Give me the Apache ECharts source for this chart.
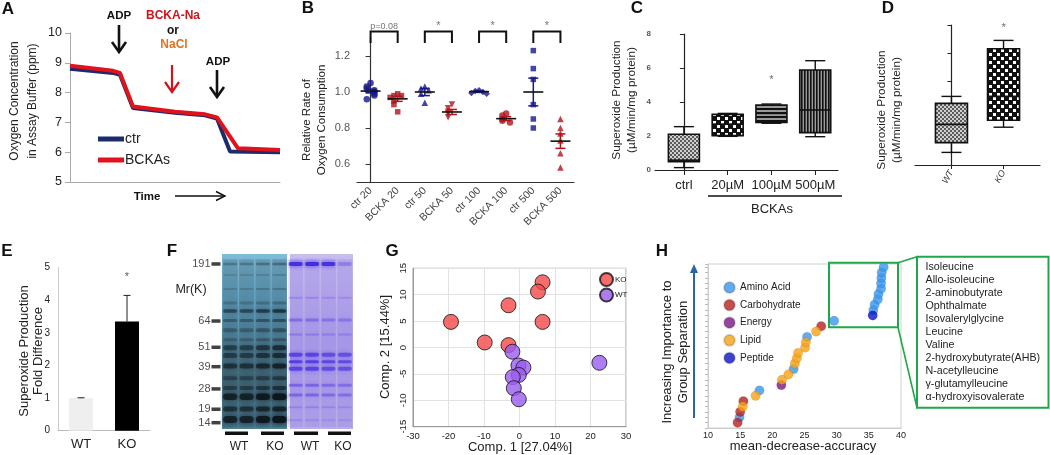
<!DOCTYPE html>
<html><head><meta charset="utf-8">
<script src="https://cdn.jsdelivr.net/npm/echarts@6/dist/echarts.min.js"></script>
<style>html,body{margin:0;padding:0;background:#fff}#c{width:1050px;height:455px}</style>
</head><body><div id="c"></div>
<script>
const FONT = 'Liberation Sans, Arial, Helvetica, sans-serif';

// ---------- Panel A: oxygen traces ----------
const aCtrTime  = [0, 20.5, 23.8, 30, 50, 64.3, 70, 76.2, 100];
const aCtrO2    = [8.8, 8.66, 8.6, 7.48, 7.32, 7.24, 7.13, 6.02, 6.0];
const aBckaTime = [0, 20.5, 23.8, 30, 50, 64.3, 70, 80, 100];
const aBckaO2   = [8.9, 8.73, 8.66, 7.53, 7.36, 7.27, 7.17, 6.13, 6.07];

// ---------- Panel B: relative O2 consumption ----------
const bCats = ['ctr 20','BCKA 20','ctr 50','BCKA 50','ctr 100','BCKA 100','ctr 500','BCKA 500'];
const bPoints = [
  [1.05, 1.03, 1.02, 1.01, 1.00, 0.99, 0.98, 0.96],
  [0.99, 0.98, 0.98, 0.97, 0.95, 0.93, 0.89],
  [1.03, 1.02, 1.01, 0.99, 0.94],
  [0.93, 0.91, 0.89, 0.88, 0.86],
  [1.01, 1.005, 1.0, 0.995, 0.99],
  [0.88, 0.87, 0.85, 0.84, 0.83],
  [1.23, 1.13, 1.07, 0.93, 0.85, 0.80],
  [0.85, 0.80, 0.77, 0.73, 0.66, 0.58]
];
const bMean = [1.005, 0.962, 1.0, 0.889, 1.002, 0.852, 1.0, 0.727];
const bSem  = [0.01, 0.014, 0.02, 0.014, 0.004, 0.011, 0.077, 0.04];
const bSymbols = ['circle','rect','triangle','triangle','diamond','circle','rect','triangle'];
const bSymbolRotate = [0,0,0,180,0,0,0,0];
const bYTicks = [0.6, 0.8, 1.0, 1.2];
const bBrackets = [[0,1,'p=0.08'],[2,3,'*'],[4,5,'*'],[6,7,'*']];

// ---------- Panel C: superoxide, BCKA doses ----------
const cCats = ['ctrl','20µM','100µM','500µM'];
const cBox = [ // min, q1, median, q3, max
  [0.14, 0.49, 0.58, 2.1, 2.55],
  [1.98, 2.02, 2.7, 3.27, 3.33],
  [2.75, 2.8, 3.33, 3.82, 3.88],
  [1.96, 2.2, 3.53, 5.88, 6.43]
];
const cStars = [[2, 5.3]];

// ---------- Panel D: superoxide WT vs KO ----------
const dCats = ['WT','KO'];
const dBox = [
  [0.45, 0.8, 1.45, 2.2, 2.45],
  [1.35, 1.6, 2.45, 4.15, 4.45]
];
const dStars = [[1, 4.9]];

// ---------- Panel E: fold difference ----------
const eCats = ['WT','KO'];
const eVals = [1.0, 3.35];
const eErr  = [0.01, 0.8];
const eStars = [[1, 4.72]];

// ---------- Panel F: gel ----------
const gelMarkers   = ['191','64','51','39','28','19','14'];
const gelMarkerPos = [5.7, 38.3, 53.3, 64.4, 77.1, 88.7, 96.4];
const gelLaneLabels = ['WT','KO','WT','KO'];
const blueBands = [ // position, intensity, thickness(px)
  [5.7,0.3,2.5],[12,0.15,2],[20,0.2,2],[28,0.25,3],[32.6,0.6,3.5],[38,0.4,3],[43.5,0.35,4],
  [49,0.3,3],[53.5,0.6,5],[58,0.6,5],[64,0.7,5],[71,0.45,4],[76.6,0.55,4],[81.5,0.9,6.5],
  [88.5,0.7,5],[94.5,0.9,7]
];
const blueLaneGain = [0.85, 0.85, 1.0, 1.1];
const purpleBands = [
  [5.7,0.9,4],[25,0.2,2],[37.7,0.35,3],[46,0.25,2],[57.5,0.65,4],[61.5,0.7,3],[65.5,0.65,4],
  [75,0.4,3],[80.6,0.4,3],[87.5,0.2,2],[95,0.15,2]
];
const purpleLaneGain = [1.0, 1.0, 0.9, 0.85];
const purpleTopGain  = [0.95, 1.0, 0.95, 0.3];

// ---------- Panel G: PCA ----------
const koX = [6.5, 5.2, -3.1, -19.3, 6.5, -9.8, -3.1];
const koY = [12.35, 10.6, 8.0, 4.85, 4.85, 0.95, 0.45];
const wtX = [-2.0, -0.3, 1.1, -0.2, -1.9, -1.6, -0.2, 22.5];
const wtY = [-0.8, -3.4, -3.8, -5.2, -5.6, -7.7, -9.8, -2.9];

// ---------- Panel H: random forest importance ----------
const hX = [14.6,14.9,15.0,15.4,15.5,17.4,18.0,21.4,21.5,22.5,23.3,23.5,23.8,24.0,25.1,25.2,25.4,26.8,27.6,29.6,
            35.6,35.7,35.9,36.4,36.5,36.9,36.9,36.95,37.0,37.3];
const hClass = ['Carbohydrate','Amino Acid','Carbohydrate','Lipid','Carbohydrate','Lipid','Amino Acid','Energy','Lipid','Lipid',
  'Amino Acid','Lipid','Lipid','Lipid','Lipid','Lipid','Amino Acid','Lipid','Carbohydrate','Amino Acid',
  'Peptide','Amino Acid','Amino Acid','Amino Acid','Amino Acid','Amino Acid','Amino Acid','Amino Acid','Amino Acid','Amino Acid'];
const hClasses = ['Amino Acid','Carbohydrate','Energy','Lipid','Peptide'];
const hColors  = ['#3a96ee','#b52121','#7b1685','#f6a215','#0b14c8'];
const hCallout = ['Isoleucine','Allo-isoleucine','2-aminobutyrate','Ophthalmate','Isovalerylglycine','Leucine','Valine',
  '2-hydroxybutyrate(AHB)','N-acetylleucine','γ-glutamylleucine','α-hydroxyisovalerate'];

// ---------- patterns ----------
function makePattern(type){
  const c = document.createElement('canvas'); const g = c.getContext('2d');
  if (type==='fine'){ c.width=c.height=4; g.fillStyle='#d0d0d0'; g.fillRect(0,0,4,4); g.fillStyle='#5a5a5a'; g.fillRect(0,0,2,2); g.fillRect(2,2,2,2); }
  else if (type==='check'){ c.width=c.height=8; g.fillStyle='#111'; g.fillRect(0,0,8,8); g.fillStyle='#fff'; g.fillRect(1,1,3,3); g.fillRect(5,5,3,3); }
  else if (type==='hline'){ c.width=4; c.height=4; g.fillStyle='#9a9a9a'; g.fillRect(0,0,4,4); g.fillStyle='#111'; g.fillRect(0,0,4,2); }
  else if (type==='vline'){ c.width=3; c.height=3; g.fillStyle='#9a9a9a'; g.fillRect(0,0,3,3); g.fillStyle='#111'; g.fillRect(0,0,1.6,3); }
  return {image:c, repeat:'repeat'};
}
const patterns = [makePattern('fine'), makePattern('check'), makePattern('hline'), makePattern('vline')];
const cPattern = [0,1,2,3];
const dPattern = [0,1];

const CTR = '#16168f', BCKA = '#b0141a';

function boxRenderer(boxW, capW){
  return function(params, api){
    const x = api.value(0);
    const pLo = api.coord([x, api.value(1)]), pQ1 = api.coord([x, api.value(2)]),
          pMed = api.coord([x, api.value(3)]), pQ3 = api.coord([x, api.value(4)]), pHi = api.coord([x, api.value(5)]);
    const pat = patterns[api.value(6)];
    const cx = pMed[0], hw = boxW/2, st = {stroke:'#111', lineWidth:1.4};
    return {type:'group', children:[
      {type:'line', shape:{x1:cx,y1:pHi[1],x2:cx,y2:pQ3[1]}, style:st},
      {type:'line', shape:{x1:cx,y1:pLo[1],x2:cx,y2:pQ1[1]}, style:st},
      {type:'line', shape:{x1:cx-capW,y1:pHi[1],x2:cx+capW,y2:pHi[1]}, style:st},
      {type:'line', shape:{x1:cx-capW,y1:pLo[1],x2:cx+capW,y2:pLo[1]}, style:st},
      {type:'rect', shape:{x:cx-hw,y:pQ3[1],width:boxW,height:pQ1[1]-pQ3[1]}, style:{fill:pat, stroke:'#111', lineWidth:1.6}},
      {type:'line', shape:{x1:cx-hw,y1:pMed[1],x2:cx+hw,y2:pMed[1]}, style:{stroke:'#111', lineWidth:1.6}}
    ]};
  };
}

// beeswarm offsets (deterministic) for panel B
function swarm(vals){
  const out = [];
  vals.forEach((v,i)=>{
    let k=0; for(let j=0;j<i;j++){ if(Math.abs(vals[j]-v)<0.025) k++; }
    out.push(k===0?0:(k%2?-1:1)*Math.ceil(k/2)*0.14);
  });
  return out;
}

const series = [];
// A
series.push({name:'ctr', type:'line', xAxisIndex:0, yAxisIndex:0, showSymbol:false, symbol:'none',
  data:aCtrTime.map((t,i)=>[t,aCtrO2[i]]), lineStyle:{color:'#1c2a6e', width:4}, itemStyle:{color:'#1c2a6e'}, z:3});
series.push({name:'BCKAs', type:'line', xAxisIndex:0, yAxisIndex:0, showSymbol:false, symbol:'none',
  data:aBckaTime.map((t,i)=>[t,aBckaO2[i]]), lineStyle:{color:'#e0121c', width:4}, itemStyle:{color:'#e0121c'}, z:4});
// B scatter
bPoints.forEach((pts,i)=>{
  const off = swarm(pts);
  series.push({name:bCats[i], type:'scatter', xAxisIndex:2, yAxisIndex:1, symbol:bSymbols[i], symbolRotate:bSymbolRotate[i],
    symbolSize: bSymbols[i]==='rect'?5.5:6.5, itemStyle:{color: i%2===0?CTR:BCKA},
    data: pts.map((v,k)=>[i+off[k], v]), z:3});
});
series.push({type:'custom', xAxisIndex:2, yAxisIndex:1, z:6, data:bMean.map((m,i)=>[i,m,bSem[i]]),
  renderItem:(p,api)=>{
    const i=api.value(0), m=api.value(1), s=api.value(2);
    const c=api.coord([i,m]), t=api.coord([i,m+s]), b=api.coord([i,m-s]);
    const col = i%2===0?CTR:BCKA, st={stroke:col,lineWidth:1.5};
    return {type:'group', children:[
      {type:'line', shape:{x1:c[0],y1:t[1],x2:c[0],y2:b[1]}, style:st},
      {type:'line', shape:{x1:c[0]-5,y1:t[1],x2:c[0]+5,y2:t[1]}, style:st},
      {type:'line', shape:{x1:c[0]-5,y1:b[1],x2:c[0]+5,y2:b[1]}, style:st},
      {type:'line', shape:{x1:c[0]-10,y1:c[1],x2:c[0]+10,y2:c[1]}, style:{stroke:'#111',lineWidth:1.6}}
    ]};
  }});
series.push({type:'custom', xAxisIndex:2, yAxisIndex:1, clip:false, z:6, data:bBrackets.map(b=>[b[0],b[1],1.336,1.272]),
  renderItem:(p,api)=>{
    const a=api.coord([api.value(0),api.value(2)]), b=api.coord([api.value(1),api.value(3)]);
    const lab = bBrackets[p.dataIndex][2];
    return {type:'group', children:[
      {type:'polyline', shape:{points:[[a[0],b[1]],[a[0],a[1]],[b[0],a[1]],[b[0],b[1]]]}, style:{stroke:'#111',lineWidth:2,fill:null}},
      {type:'text', x:(a[0]+b[0])/2, y:a[1]-(lab==='*'?6:5), style:{text:lab, fill:'#777', fontSize:lab==='*'?11:9, fontFamily:FONT, align:'center', verticalAlign:'middle'}}
    ]};
  }});
// C
series.push({type:'custom', xAxisIndex:3, yAxisIndex:2, data:cBox.map((b,i)=>[i].concat(b).concat([cPattern[i]])), renderItem:boxRenderer(31,10)});
series.push({type:'scatter', xAxisIndex:3, yAxisIndex:2, symbolSize:0, data:cStars,
  label:{show:true, formatter:'*', position:'inside', color:'#444', fontSize:11, fontFamily:FONT}});
// D
series.push({type:'custom', xAxisIndex:4, yAxisIndex:3, data:dBox.map((b,i)=>[i].concat(b).concat([dPattern[i]])), renderItem:boxRenderer(32,10)});
series.push({type:'scatter', xAxisIndex:4, yAxisIndex:3, symbolSize:0, data:dStars,
  label:{show:true, formatter:'*', position:'inside', color:'#444', fontSize:11, fontFamily:FONT}});
// E
series.push({type:'bar', xAxisIndex:5, yAxisIndex:4, barWidth:24,
  data:eVals.map((v,i)=>({value:v, itemStyle:{color: i===0?'#efefef':'#000'}}))});
series.push({type:'custom', xAxisIndex:5, yAxisIndex:4, z:5, data:eVals.map((v,i)=>[i,v,eErr[i]]),
  renderItem:(p,api)=>{
    const i=api.value(0), v=api.value(1), e=api.value(2);
    const b=api.coord([i,v]), t=api.coord([i,v+e]); const st={stroke:'#222',lineWidth:1};
    return {type:'group', children:[
      {type:'line', shape:{x1:b[0],y1:b[1],x2:b[0],y2:t[1]}, style:st},
      {type:'line', shape:{x1:b[0]-3.5,y1:t[1],x2:b[0]+3.5,y2:t[1]}, style:st}
    ]};
  }});
series.push({type:'scatter', xAxisIndex:5, yAxisIndex:4, symbolSize:0, data:eStars,
  label:{show:true, formatter:'*', position:'inside', color:'#333', fontSize:11, fontFamily:FONT}});
// F gel
const gelPanels = [[-0.5, 3.47, 0], [3.65, 7.5, 1]];
series.push({type:'custom', xAxisIndex:6, yAxisIndex:5, clip:false, data:gelPanels,
  renderItem:(p,api)=>{
    const a=api.coord([api.value(0),0]), b=api.coord([api.value(1),100]);
    const blue = api.value(2)===0;
    return {type:'rect', shape:{x:a[0],y:a[1],width:b[0]-a[0],height:b[1]-a[1]},
      style:{fill: new echarts.graphic.LinearGradient(0,0,0,1, blue?
        [{offset:0,color:'#7dbcd8'},{offset:0.35,color:'#5d9fbf'},{offset:0.7,color:'#466f80'},{offset:1,color:'#4c7f95'}]:
        [{offset:0,color:'#c9bdee'},{offset:0.5,color:'#b5a6ea'},{offset:1,color:'#bcaeea'}])}};
  }});
// lane smears
const gelLanes = [0,1,2,3,4,5,6,7];
series.push({type:'custom', xAxisIndex:6, yAxisIndex:5, clip:false, data:gelLanes.map(l=>[l]),
  renderItem:(p,api)=>{
    const l=api.value(0), a=api.coord([l,3]), b=api.coord([l,99]); const blue=l<4;
    return {type:'rect', shape:{x:a[0]-7.5,y:a[1],width:15,height:b[1]-a[1]},
      style:{fill: blue?'rgba(20,40,50,0.18)':'rgba(70,50,210,0.12)', shadowBlur:4, shadowColor: blue?'rgba(20,40,50,0.2)':'rgba(70,50,210,0.12)'}};
  }});
const gelData = [];
for (let l=0;l<4;l++){
  blueBands.forEach(b=>gelData.push([l, b[0], Math.min(1,b[1]*blueLaneGain[l]), b[2], 0]));
  purpleBands.forEach((b,k)=>gelData.push([4+l, b[0], Math.min(1,b[1]*(k===0?purpleTopGain[l]:purpleLaneGain[l])), b[2], 1]));
}
series.push({type:'custom', xAxisIndex:6, yAxisIndex:5, clip:false, data:gelData,
  renderItem:(p,api)=>{
    const l=api.value(0), c=api.coord([l, api.value(1)]), a=api.value(2), h=api.value(3), blue=api.value(4)===0;
    const w = 14;
    const col = blue?'rgba(12,22,28,'+a+')':'rgba(60,36,222,'+a+')';
    return {type:'rect', shape:{x:c[0]-w/2, y:c[1]-h/2, width:w, height:h, r:h/2},
      style:{fill: col, shadowBlur:5, shadowColor: col}};
  }});
series.push({type:'scatter', xAxisIndex:6, yAxisIndex:5, clip:false, symbol:'rect', symbolSize:[9,3.5], symbolOffset:[-6,0],
  itemStyle:{color:'#111'}, data:gelMarkerPos.map((v,i)=>({name:gelMarkers[i], value:[-0.5,v]})),
  label:{show:true, position:'left', distance:1, formatter:'{b}', color:'#222', fontSize:11, fontFamily:FONT}});
// G
series.push({name:'KO', type:'scatter', xAxisIndex:7, yAxisIndex:6, symbolSize:15,
  itemStyle:{color:'#f24848', borderColor:'#111', borderWidth:1}, data:koX.map((x,i)=>[x,koY[i]])});
series.push({name:'WT', type:'scatter', xAxisIndex:7, yAxisIndex:6, symbolSize:15,
  itemStyle:{color:'#9a5cf0', borderColor:'#111', borderWidth:1}, data:wtX.map((x,i)=>[x,wtY[i]])});
// H
hClasses.forEach((cl,ci)=>{
  const d=[]; hX.forEach((x,i)=>{ if(hClass[i]===cl) d.push([x,i+1]); });
  series.push({name:cl, type:'scatter', xAxisIndex:8, yAxisIndex:7, symbolSize:9.5,
    itemStyle:{color:hColors[ci], borderColor:'rgba(0,0,0,0.18)', borderWidth:0.5}, data:d});
});

const axText = (s,c)=>({fontSize:s, color:c||'#333', fontFamily:FONT});
const option = {
  animation:false,
  backgroundColor:'#fff',
  textStyle:{fontFamily:FONT},
  grid:[
    {left:70, top:33, width:210, height:149},
    {left:357, top:38, width:217, height:144},
    {left:655, top:34, width:183, height:136},
    {left:915, top:25, width:125, height:140},
    {left:58, top:267.7, width:92, height:163},
    {left:222, top:254, width:131, height:175},
    {left:413, top:268.3, width:213, height:158.4, show:true, borderColor:'#999', borderWidth:1},
    {left:708, top:264, width:193, height:164, show:true, borderColor:'#d0d0d0', borderWidth:1}
  ],
  xAxis:[
    {gridIndex:0, type:'value', min:0, max:100, axisLine:{lineStyle:{color:'#aaa'}}, axisTick:{show:false}, axisLabel:{show:false}, splitLine:{show:false}},
    {gridIndex:1, type:'category', data:bCats, axisLine:{lineStyle:{color:'#333',width:1.2}},
      axisTick:{alignWithLabel:true, length:5, lineStyle:{color:'#333'}},
      axisLabel:{interval:0, rotate:45, margin:7, ...axText(10.5,'#444')}},
    {gridIndex:1, type:'value', min:-0.5, max:7.5, show:false},
    {gridIndex:2, type:'value', min:-0.66, max:3.52, axisLine:{lineStyle:{color:'#222',width:1.2}},
      axisTick:{customValues:[0,1,2,3], length:5, lineStyle:{color:'#222'}},
      axisLabel:{customValues:[0,1,2,3], formatter:v=>cCats[Math.round(v)], margin:9, ...axText(13,'#222')}, splitLine:{show:false}},
    {gridIndex:3, type:'value', min:-0.7, max:1.7, axisLine:{lineStyle:{color:'#222',width:1.2}},
      axisTick:{customValues:[0,1], length:4, lineStyle:{color:'#222'}},
      axisLabel:{customValues:[0,1], formatter:v=>dCats[Math.round(v)], rotate:60, margin:6, fontStyle:'italic', ...axText(9,'#333')}, splitLine:{show:false}},
    {gridIndex:4, type:'category', data:eCats, axisLine:{lineStyle:{color:'#bbb'}}, axisTick:{show:false},
      axisLabel:{margin:7, ...axText(13,'#222')}},
    {gridIndex:5, type:'value', min:-0.5, max:7.5, show:false},
    {gridIndex:6, type:'value', min:-30, max:30, interval:10, axisLine:{onZero:false, lineStyle:{color:'#999'}}, axisTick:{show:false},
      axisLabel:{margin:5, ...axText(9.5,'#222')}, splitLine:{lineStyle:{color:'#e2e2e2'}}},
    {gridIndex:7, type:'value', min:10, max:40, interval:5, axisLine:{onZero:false, lineStyle:{color:'#ccc'}}, axisTick:{show:false},
      axisLabel:{margin:3, ...axText(9,'#222')}, splitLine:{show:false}}
  ],
  yAxis:[
    {gridIndex:0, type:'value', min:5, max:10, interval:1, axisLine:{show:true, lineStyle:{color:'#aaa'}},
      axisTick:{show:true, length:5, lineStyle:{color:'#aaa'}}, axisLabel:{margin:8, ...axText(12.5,'#222')}, splitLine:{show:false}},
    {gridIndex:1, type:'value', min:0.5, max:1.3, axisLine:{show:true, lineStyle:{color:'#333',width:1.2}},
      axisTick:{show:true, customValues:bYTicks, length:5, lineStyle:{color:'#333'}},
      axisLabel:{customValues:bYTicks, formatter:v=>v.toFixed(1), margin:7, ...axText(11,'#555')}, splitLine:{show:false}},
    {gridIndex:2, type:'value', min:0, max:8, interval:2, axisLine:{show:true, lineStyle:{color:'#222',width:1.2}},
      axisTick:{show:true, length:4, lineStyle:{color:'#222'}}, axisLabel:{margin:4, fontWeight:'bold', ...axText(8,'#555')}, splitLine:{show:false}},
    {gridIndex:3, type:'value', min:0, max:5, interval:1, axisLine:{show:true, lineStyle:{color:'#222',width:1.2}},
      axisTick:{show:true, length:4, lineStyle:{color:'#222'}}, axisLabel:{show:false}, splitLine:{show:false}},
    {gridIndex:4, type:'value', min:0, max:5, interval:1, axisLine:{show:true, lineStyle:{color:'#ccc'}},
      axisTick:{show:false}, axisLabel:{margin:8, ...axText(10,'#222')}, splitLine:{show:false}},
    {gridIndex:5, type:'value', min:0, max:100, inverse:true, show:false},
    {gridIndex:6, type:'value', min:-15, max:15, interval:5, axisLine:{onZero:false, lineStyle:{color:'#999'}}, axisTick:{show:false},
      axisLabel:{rotate:90, margin:5, ...axText(9.5,'#222')}, splitLine:{lineStyle:{color:'#e2e2e2'}}},
    {gridIndex:7, type:'value', min:0, max:30.6, interval:1, axisLine:{show:true, onZero:false, lineStyle:{color:'#ccc'}},
      axisTick:{show:true, length:3, lineStyle:{color:'#bbb'}}, axisLabel:{show:false}, splitLine:{show:false}}
  ],
  legend:[
    {data:['ctr','BCKAs'], left:93, top:127, orient:'vertical', icon:'rect', itemWidth:26, itemHeight:5, itemGap:7,
      textStyle:{fontSize:14, color:'#222', fontFamily:FONT, padding:[0,0,0,-4]}},
    {data:['KO','WT'], left:594, top:267, orient:'vertical', icon:'circle', itemWidth:13, itemHeight:13, itemGap:0.5,
      textStyle:{fontSize:8, color:'#222', fontFamily:FONT, padding:[0,0,0,-3]}},
    {data:hClasses, left:718, top:276, orient:'vertical', icon:'circle', itemWidth:11, itemHeight:11, itemGap:4.6,
      textStyle:{fontSize:10, color:'#222', fontFamily:FONT}}
  ],
  series
};

// ---------- annotations ----------
function txt(x,y,text,o){ o=o||{}; return {type:'text', x, y, rotation:o.r||0, silent:true,
  style:{text, fontSize:o.s||12, fontWeight:o.w||'normal', fontStyle:o.i||'normal', fontFamily:FONT, fill:o.c||'#222',
    align:o.a||'center', verticalAlign:'middle', lineHeight:o.lh||undefined}}; }
function downArrow(x,y1,y2,color,lw){ return {type:'group', silent:true, children:[
  {type:'line', shape:{x1:x,y1:y1,x2:x,y2:y2-1}, style:{stroke:color,lineWidth:lw}},
  {type:'polyline', shape:{points:[[x-7,y2-10],[x,y2],[x+7,y2-10]]}, style:{stroke:color,lineWidth:lw,fill:null}}]}; }
const R = Math.PI/2;
const graphic = [
  txt(8,9,'A',{s:17,w:'bold',c:'#111'}), txt(308,8,'B',{s:17,w:'bold',c:'#111'}), txt(637,8,'C',{s:17,w:'bold',c:'#111'}),
  txt(888,8,'D',{s:17,w:'bold',c:'#111'}), txt(7,251,'E',{s:17,w:'bold',c:'#111'}), txt(172,251,'F',{s:17,w:'bold',c:'#111'}),
  txt(392,251,'G',{s:17,w:'bold',c:'#111'}), txt(662,251,'H',{s:17,w:'bold',c:'#111'}),
  // A
  txt(24,101,'Oxygen Concentration\nin Assay Buffer (ppm)',{s:12,r:R,lh:18}),
  txt(119,16,'ADP',{s:11.5,w:'bold',c:'#111'}), downArrow(119,25,52,'#111',2.6),
  txt(173,16,'BCKA-Na',{s:12,w:'bold',c:'#d0141c'}), txt(173,31,'or',{s:12,w:'bold',c:'#111'}), txt(174,45,'NaCl',{s:12,w:'bold',c:'#e2731e'}),
  downArrow(172,65,92,'#d0141c',2.2),
  txt(218,62,'ADP',{s:11.5,w:'bold',c:'#111'}), downArrow(217,70,97,'#111',2.6),
  txt(147,197,'Time',{s:11.5,w:'bold',c:'#111'}),
  {type:'line', silent:true, shape:{x1:175,y1:196,x2:225,y2:196}, style:{stroke:'#111',lineWidth:1.4}},
  {type:'polyline', silent:true, shape:{points:[[216,191.5],[225,196],[216,200.5]]}, style:{stroke:'#111',lineWidth:1.4,fill:null}},
  // B
  txt(314,120,'Relative Rate of\nOxygen Consumption',{s:11.5,r:R,lh:15}),
  // C
  txt(624,100,'Superoxide Production\n(µM/min/mg protein)',{s:11.8,r:R,lh:15}),
  {type:'line', silent:true, shape:{x1:708,y1:196,x2:842,y2:196}, style:{stroke:'#111',lineWidth:1.5}},
  txt(772,209,'BCKAs',{s:13}),
  // D
  txt(889,110,'Superoxide Production\n(µM/min/mg protein)',{s:11.8,r:R,lh:15}),
  // E
  txt(31,351,'Superoxide Production\nFold Difference',{s:13,r:R,lh:14}),
  // F
  txt(191,290,'Mr(K)',{s:12.5}),
  ...[[225,248],[261,284],[294,318],[328,351]].map(s=>({type:'rect', silent:true, shape:{x:s[0],y:431.5,width:s[1]-s[0],height:3.5}, style:{fill:'#111'}})),
  ...[239,275,310,343].map((x,i)=>txt(x,447,gelLaneLabels[i],{s:12})),
  // G
  txt(385,347,'Comp. 2 [15.44%]',{s:13,r:R}), txt(520,447,'Comp. 1 [27.04%]',{s:13}),
  // H
  txt(675,352,'Increasing Importance to\nGroup Separation',{s:13,r:R,lh:16}),
  {type:'line', silent:true, shape:{x1:694,y1:418,x2:694,y2:271}, style:{stroke:'#2a66a6',lineWidth:2}},
  {type:'polygon', silent:true, shape:{points:[[690,273],[694,264],[698,273]]}, style:{fill:'#2a66a6'}},
  txt(803,446,'mean-decrease-accuracy',{s:13}),
  {type:'rect', silent:true, shape:{x:829,y:262.7,width:69,height:64.6}, style:{fill:null, stroke:'#1fa84a', lineWidth:2}},
  {type:'rect', silent:true, shape:{x:917,y:256.7,width:131.5,height:151}, style:{fill:null, stroke:'#1fa84a', lineWidth:2}},
  {type:'line', silent:true, shape:{x1:898,y1:262.7,x2:917,y2:256.7}, style:{stroke:'#1fa84a',lineWidth:1.6}},
  {type:'line', silent:true, shape:{x1:898,y1:327.3,x2:917,y2:407.7}, style:{stroke:'#1fa84a',lineWidth:1.6}},
  ...hCallout.map((t,i)=>txt(925.5, 267.5 + i*12.95, t, {s:10.7, a:'left', c:'#222'}))
];
option.graphic = graphic;

const chart = echarts.init(document.getElementById('c'));
chart.setOption(option);
</script></body></html>
